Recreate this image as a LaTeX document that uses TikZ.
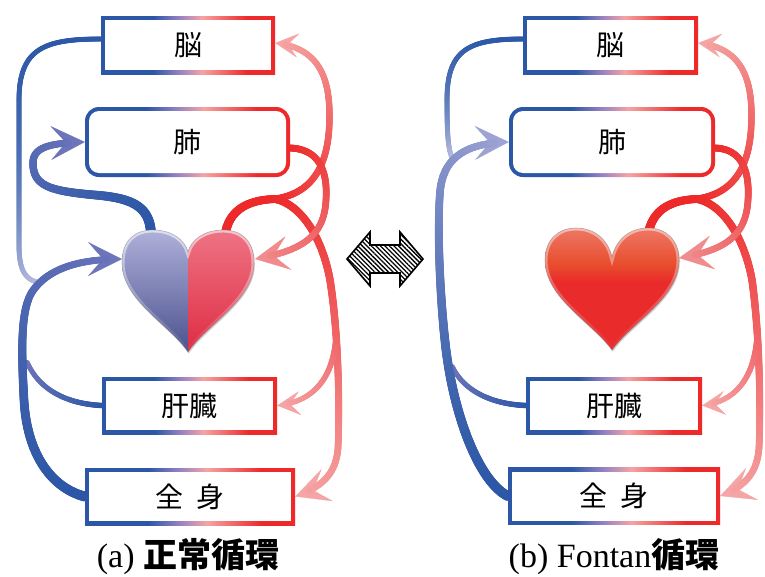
\documentclass[tikz,border=0pt]{standalone}
\usepackage{fontspec}
\setmainfont{Liberation Serif}
\newfontfamily\jpfont{Noto Sans CJK JP}
\usetikzlibrary{arrows.meta,decorations.markings,patterns.meta,fadings}

% venous (blue) and arterial (red) tones
\definecolor{vblue}{RGB}{43,87,166}
\definecolor{vmid}{RGB}{108,116,186}
\definecolor{vlight}{RGB}{186,190,224}
\definecolor{vlav}{RGB}{158,163,211}
\definecolor{ared}{RGB}{237,41,41}
\definecolor{apink}{RGB}{241,140,142}
\definecolor{aplight}{RGB}{245,165,165}
\definecolor{amid}{RGB}{240,100,104}
\definecolor{gpurple}{RGB}{150,130,195}
\definecolor{gpink}{RGB}{245,163,163}
% heart tones
\definecolor{hAbt}{RGB}{178,180,220}
\definecolor{hAbm}{RGB}{110,116,184}
\definecolor{hAbb}{RGB}{72,78,140}
\definecolor{hArt}{RGB}{238,118,134}
\definecolor{hArm}{RGB}{238,64,88}
\definecolor{hArb}{RGB}{222,42,66}
\definecolor{hBtop}{RGB}{238,122,104}
\definecolor{hBorange}{RGB}{232,78,46}
\definecolor{hBred}{RGB}{234,43,43}

% frame colour of the organ boxes: blue on the left, red on the right
\pgfdeclarehorizontalshading{organgrad}{100bp}{color(0bp)=(vblue); color(25bp)=(vblue);
  color(40bp)=(vblue); color(47.5bp)=(gpurple); color(54bp)=(gpink);
  color(67bp)=(ared); color(75bp)=(ared); color(100bp)=(ared)}
\pgfdeclareverticalshading{redheart}{100bp}{color(0bp)=(hBred); color(25bp)=(hBred);
  color(53bp)=(hBred); color(60bp)=(hBorange); color(75bp)=(hBtop); color(100bp)=(hBtop)}
\tikzfading[name=glossfade, top color=transparent!0, bottom color=transparent!100]

\pgfdeclarelayer{paper}
\pgfdeclarelayer{flows}
\pgfsetlayers{paper,flows,main}

\tikzset{
  tipL/.tip={Stealth[length=34pt,width=34pt,inset=15pt]},
  tipS/.tip={Stealth[length=23pt,width=24pt,inset=10pt]},
  organ/.style={shade, shading=organgrad, inner sep=0pt, text=black,
    font=\jpfont\fontsize{28pt}{28pt}\selectfont,
    path picture={\fill[white, sharp corners]
      ([shift={(4pt,4pt)}]path picture bounding box.south west) rectangle
      ([shift={(-4pt,-4pt)}]path picture bounding box.north east);}},
  roundorgan/.style={organ, rounded corners=14pt,
    path picture={\fill[white, rounded corners=10pt]
      ([shift={(4pt,4pt)}]path picture bounding box.south west) rectangle
      ([shift={(-4pt,-4pt)}]path picture bounding box.north east);}},
  caption/.style={font=\fontsize{34pt}{34pt}\selectfont, inner sep=0pt},
}

% exponent shaping how fast a vessel's colour changes (1 = evenly)
\def\flowease{1}
% one dot of a vessel whose colour and width change along its length
\newcommand\flowmark[4]{%
  \pgfmathsetmacro\flowfrac{\pgfkeysvalueof{/pgf/decoration/mark info/distance from start}/\pgfdecoratedpathlength}%
  \pgfmathtruncatemacro\flowpct{100*(1-\flowfrac^\flowease)}%
  \pgfmathsetmacro\flowrad{(#3+(#4-#3)*\flowfrac)/2}%
  \fill[#1!\flowpct!#2] (0pt,0pt) circle[radius=\flowrad pt];%
}
% vessel without a tip: colours #1->#2, widths #3->#4, path #5
\newcommand\gradflow[5]{%
  \path[decoration={markings, mark=between positions 0 and 1 step 0.7pt with
    {\flowmark{#1}{#2}{#3}{#4}}}, decorate] #5;%
}
% vessel ending in tip #5, the dots stopping #6pt before its end
\newcommand\gradflowto[7]{%
  \path[draw=#2, line width=0.3pt, -{#5}] #7;%
  \path[decoration={markings, mark=between positions 0 and 1 step 0.7pt with {%
    \pgfmathsetmacro\flowrest{\pgfdecoratedpathlength-\pgfkeysvalueof{/pgf/decoration/mark info/distance from start}}%
    \ifdim\flowrest pt>#6pt\relax\flowmark{#1}{#2}{#3}{#4}\fi}}, decorate] #7;%
}

\newcommand\heartApath{(188,352) .. controls (170,325) and (122,300) .. (122,263)
  .. controls (122,240) and (135,230) .. (153,230) .. controls (172,230) and (185,240) .. (188,252)
  .. controls (191,240) and (204,230) .. (223,230) .. controls (241,230) and (254,240) .. (254,263)
  .. controls (254,300) and (206,325) .. (188,352) -- cycle}
\newcommand\heartBpath{(612,350) .. controls (592,322) and (545,298) .. (545,260)
  .. controls (545,240) and (558,228) .. (576,228) .. controls (595,228) and (608,240) .. (612,257)
  .. controls (616,240) and (629,228) .. (648,228) .. controls (666,228) and (679,240) .. (679,260)
  .. controls (679,298) and (632,322) .. (612,350) -- cycle}

\begin{document}
\begin{tikzpicture}[x=1pt,y=-1pt]
\useasboundingbox (0,0) rectangle (765,576);
\begin{pgfonlayer}{paper}
  \fill[white] (0,0) rectangle (765,576);
\end{pgfonlayer}

% ---------------- (a) normal circulation ----------------
\node[organ, minimum width=174pt, minimum height=58pt] (brainA) at (188,45) {脳};
\node[roundorgan, minimum width=205pt, minimum height=70pt] (lungA) at (187.5,142) {肺};
\node[organ, minimum width=175pt, minimum height=57pt] (liverA) at (189.5,405.5) {肝臓};
\node[organ, minimum width=210pt, minimum height=57pt] (bodyA) at (190,496.5) {全\hspace{0.45em}身};

\coordinate (hA-pa) at (151,236);
\coordinate (hA-ao) at (225,236);
\coordinate (hA-vin) at (122,259);
\coordinate (hA-ain) at (255,259);
\coordinate (aoA) at (275,199);
\coordinate (aoA-liv) at (336,340);

\begin{pgfonlayer}{flows}
  % veins back to the heart
  {\def\flowease{2.5}%
  \gradflow{vblue}{vlight}{5}{5}{([yshift=6pt]brainA.west) .. controls (45,39) and (19,48) .. (19,100)
    -- (19,245) .. controls (19,272) and (26,281) .. (42,283)}}
  \gradflow{vblue}{vmid}{5.5}{5}{(liverA.west) .. controls (70,404) and (40,392) .. (27,362)}
  {\def\flowease{1.5}%
  \gradflowto{vblue}{vmid}{10}{6.5}{tipL}{16}{(bodyA.west) .. controls (52,488) and (27,455) .. (24,400)
    .. controls (21,345) and (21,310) .. (32,292) .. controls (48,268) and (80,259) .. (hA-vin)}
  % pulmonary artery
  \gradflowto{vblue}{vmid}{10}{6.5}{tipL}{16}{(hA-pa) .. controls (151,205) and (130,198) .. (95,195)
    .. controls (50,191) and (33,186) .. (33,163) .. controls (33,147) and (50,143) .. (lungA.west)}}
  % aorta and its branches
  \gradflow{ared}{ared}{9}{8}{(hA-ao) .. controls (228,212) and (245,200) .. (aoA)}
  \gradflowto{ared}{aplight}{7}{6}{tipS}{11}{(aoA) .. controls (308,194) and (326,172) .. (329,130)
    .. controls (332,82) and (322,48) .. ([yshift=2pt]brainA.east)}
  \gradflowto{ared}{aplight}{8}{6.5}{tipL}{16}{(aoA) .. controls (300,204) and (322,236) .. (330,280)
    .. controls (338,330) and (340,400) .. (338,448) .. controls (336,474) and (322,487) .. (bodyA.east)}
  \gradflowto{amid}{aplight}{6}{5}{tipS}{11}{(aoA-liv) .. controls (332,380) and (312,402) .. (liverA.east)}
  % pulmonary vein
  \gradflowto{ared}{apink}{7}{6.5}{tipL}{16}{([yshift=-6pt]lungA.east) .. controls (317,149) and (328,168) .. (326,200)
    .. controls (324,238) and (300,251) .. (hA-ain)}
\end{pgfonlayer}

% two-coloured heart
\fill[black, opacity=0.2, xshift=0.8pt, yshift=-1.5pt] \heartApath;
\begin{scope}
  \clip \heartApath;
  \shade[top color=hAbt, middle color=hAbm, bottom color=hAbb] (118,226) rectangle (188,356);
  \shade[top color=hArt, middle color=hArm, bottom color=hArb] (188,226) rectangle (258,356);
  \draw[white, opacity=0.6, line width=5pt, path fading=glossfade] \heartApath;
\end{scope}
\draw[black!50, opacity=0.5, line width=0.6pt] \heartApath;

\node[caption] (capA) at (188,557) {(a) {\jpfont\bfseries 正常循環}};

% ---------------- exchange symbol ----------------
\draw[line width=1.6pt, line join=miter, pattern={Lines[angle=-45,distance=3.2pt,line width=1.3pt]}]
  (347,259) -- (370,232) -- (370,245) -- (400,245) -- (400,232) -- (423,259)
  -- (400,286) -- (400,273) -- (370,273) -- (370,286) -- cycle;

% ---------------- (b) Fontan circulation ----------------
\node[organ, minimum width=175pt, minimum height=58pt] (brainB) at (610.5,45) {脳};
\node[roundorgan, minimum width=206pt, minimum height=70pt] (lungB) at (612,142) {肺};
\node[organ, minimum width=176pt, minimum height=57pt] (liverB) at (614,405.5) {肝臓};
\node[organ, minimum width=212pt, minimum height=57pt] (bodyB) at (614,496) {全\hspace{0.45em}身};

\coordinate (hB-ao) at (648,236);
\coordinate (hB-ain) at (679,258);
\coordinate (aoB) at (697,199);
\coordinate (aoB-liv) at (757,340);

\begin{pgfonlayer}{flows}
  % veins led straight to the lungs
  {\def\flowease{2.5}%
  \gradflow{vblue}{vlight}{5}{5}{([yshift=6pt]brainB.west) .. controls (468,39) and (447,50) .. (447,100)
    .. controls (447,135) and (448,150) .. (453,160)}}
  \gradflow{vblue}{vmid}{5.5}{5}{(liverB.west) .. controls (490,404) and (463,390) .. (452,366)}
  {\def\flowease{1.5}%
  \gradflowto{vblue}{vlav}{10}{7}{tipL}{16}{(bodyB.west) .. controls (480,482) and (455,420) .. (446,350)
    .. controls (440,300) and (437,230) .. (440,192) .. controls (443,158) and (465,143) .. (lungB.west)}}
  % aorta and its branches
  \gradflow{ared}{ared}{9}{8}{(hB-ao) .. controls (651,212) and (668,200) .. (aoB)}
  \gradflowto{ared}{aplight}{7}{6}{tipS}{11}{(aoB) .. controls (730,194) and (748,172) .. (751,130)
    .. controls (754,82) and (744,48) .. ([yshift=2pt]brainB.east)}
  \gradflowto{ared}{aplight}{8}{6.5}{tipL}{16}{(aoB) .. controls (722,204) and (744,236) .. (752,280)
    .. controls (759,330) and (761,400) .. (759,448) .. controls (757,474) and (744,487) .. (bodyB.east)}
  \gradflowto{amid}{aplight}{6}{5}{tipS}{11}{(aoB-liv) .. controls (753,380) and (734,402) .. (liverB.east)}
  % pulmonary vein
  \gradflowto{ared}{apink}{7}{6.5}{tipL}{16}{([yshift=-6pt]lungB.east) .. controls (740,149) and (750,168) .. (748,200)
    .. controls (746,238) and (722,251) .. (hB-ain)}
\end{pgfonlayer}

% single red heart
\fill[black, opacity=0.2, xshift=0.8pt, yshift=-1.5pt] \heartBpath;
\begin{scope}
  \clip \heartBpath;
  \shade[shading=redheart] (540,226) rectangle (684,352);
  \draw[white, opacity=0.5, line width=5pt, path fading=glossfade] \heartBpath;
\end{scope}
\draw[black!50, opacity=0.5, line width=0.6pt] \heartBpath;

\node[caption] (capB) at (614,557) {(b) Fontan{\jpfont\bfseries 循環}};
\end{tikzpicture}
\end{document}
